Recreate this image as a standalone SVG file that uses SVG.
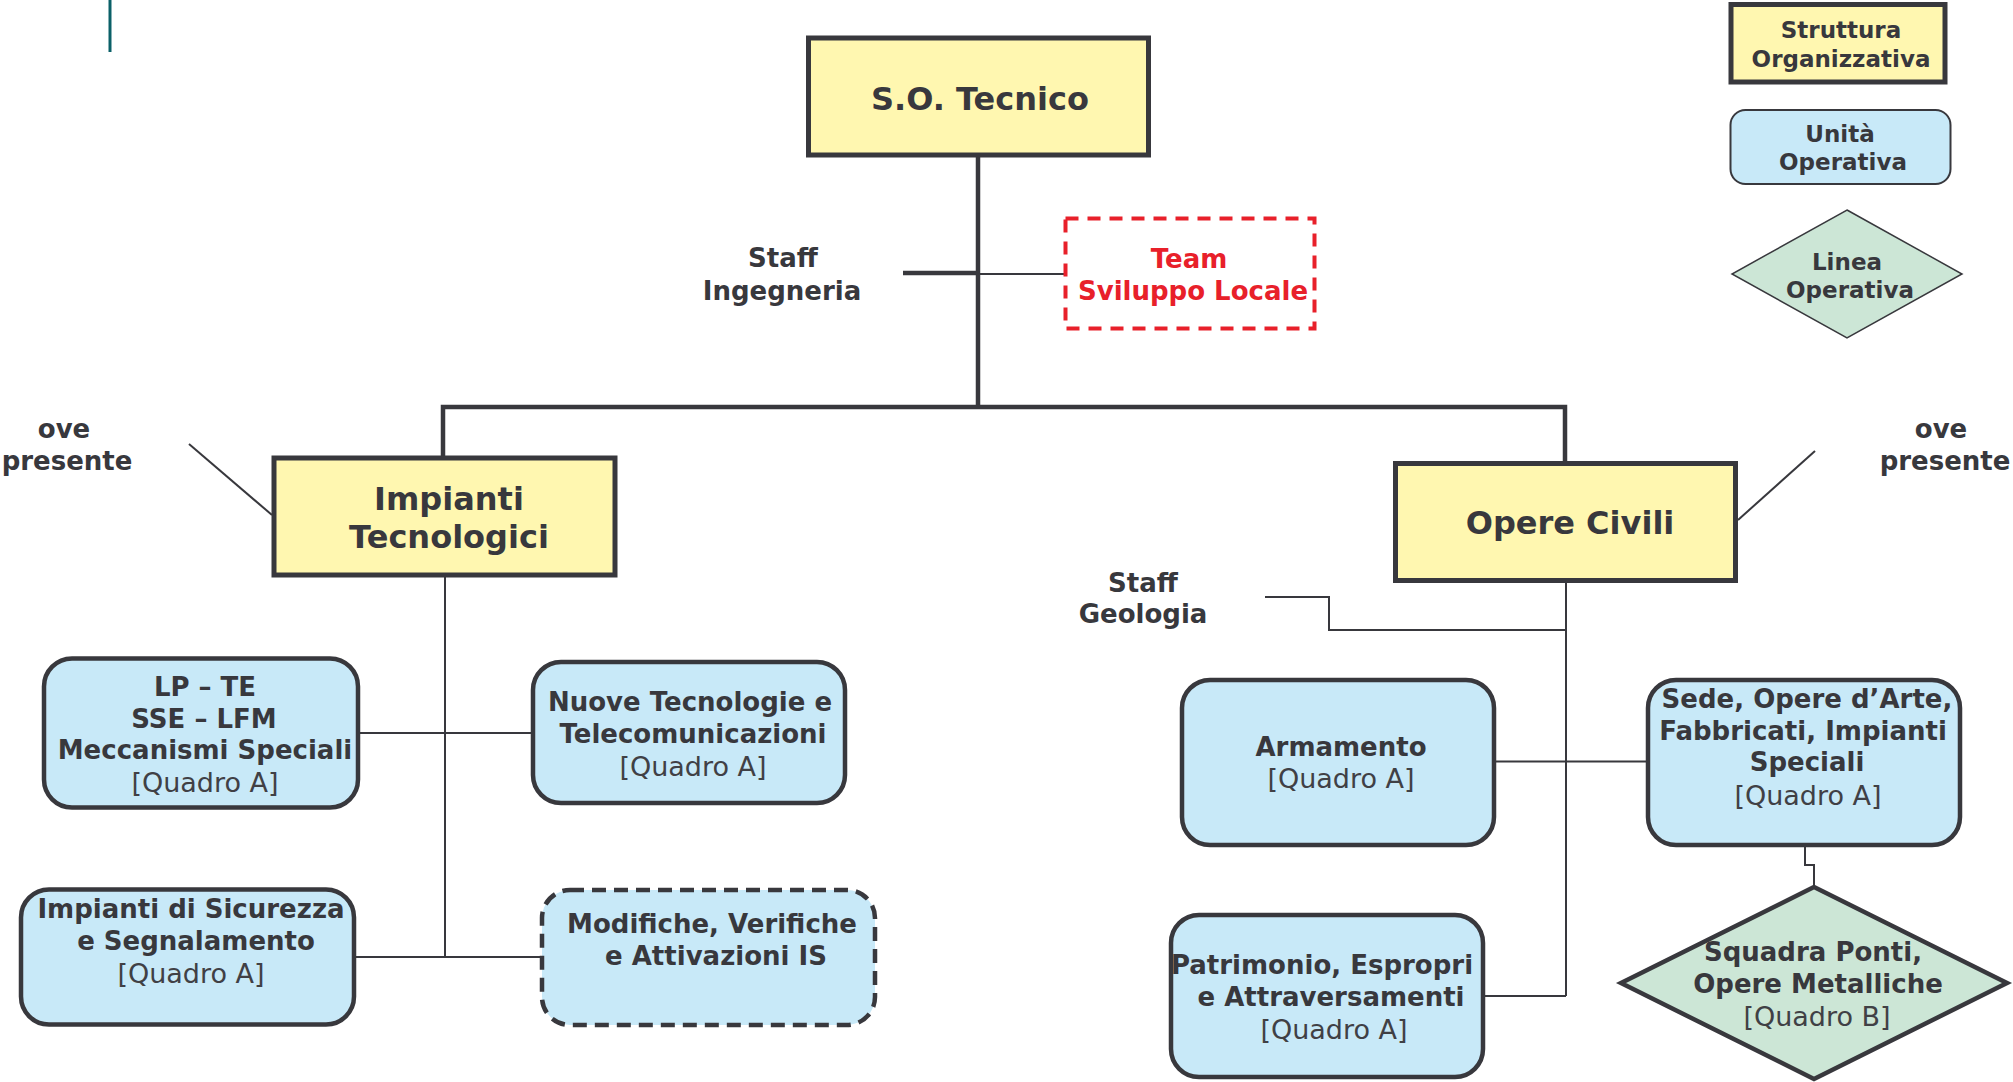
<svg xmlns="http://www.w3.org/2000/svg" width="2013" height="1082" viewBox="0 0 2013 1082">
<style>
text{font-family:"DejaVu Sans","Liberation Sans",sans-serif;fill:#38383d;text-anchor:middle}
.b{font-weight:bold}
.r{font-weight:normal;fill:#404045}
.f31{font-size:32px}
.f26{font-size:26px}
.r.f26{font-size:27px}
.f21{font-size:23px}
.ys{fill:#fff7b0;stroke:#38383d;stroke-width:5}
.bu{fill:#c8e9f8;stroke:#38383d;stroke-width:4.5}
.gr{fill:#cce6d6;stroke:#38383d}
.thick{fill:none;stroke:#38383d;stroke-width:4.5}
.thin{fill:none;stroke:#38383d;stroke-width:2}
.red{fill:#e8202a}
</style>
<rect width="2013" height="1082" fill="#ffffff"/>
<line x1="110" y1="0" x2="110" y2="52" stroke="#0b6068" stroke-width="3"/>

<g id="connectors">
<polyline class="thick" points="978,157 978,407"/>
<polyline class="thick" points="443,457 443,407 1565,407 1565,463"/>
<line class="thick" x1="903" y1="273" x2="978" y2="273" stroke-width="4"/>
<line class="thin" x1="978" y1="274" x2="1064" y2="274"/>
<line class="thin" x1="189" y1="444" x2="272" y2="515"/>
<line class="thin" x1="1738" y1="520" x2="1815" y2="451"/>
<line class="thin" x1="445" y1="577" x2="445" y2="957"/>
<line class="thin" x1="360" y1="733" x2="531" y2="733"/>
<line class="thin" x1="356" y1="957" x2="540" y2="957"/>
<line class="thin" x1="1566" y1="582" x2="1566" y2="996"/>
<polyline class="thin" points="1265,597 1329,597 1329,630 1566,630"/>
<line class="thin" x1="1496" y1="761.5" x2="1646" y2="761.5"/>
<line class="thin" x1="1485" y1="996" x2="1566" y2="996"/>
<polyline class="thin" points="1805,847 1805,865 1814,865 1814,887"/>
</g>

<g id="so-tecnico">
<rect class="ys" x="808.5" y="38" width="340" height="117"/>
<text class="b f31" x="980" y="110">S.O. Tecnico</text>
</g>

<g id="staff-ingegneria">
<text class="b f26" x="783" y="267">Staff</text>
<text class="b f26" x="782" y="300">Ingegneria</text>
</g>

<g id="team-sviluppo">
<rect x="1065.5" y="218.5" width="249" height="110" fill="#ffffff" stroke="#e8202a" stroke-width="4" stroke-dasharray="13,9"/>
<text class="b f26 red" x="1189" y="268">Team</text>
<text class="b f26 red" x="1193" y="300">Sviluppo Locale</text>
</g>

<g id="legend-struttura">
<rect class="ys" x="1731" y="4.5" width="214" height="77.5" stroke-width="4.5"/>
<text class="b f21" x="1841" y="38">Struttura</text>
<text class="b f21" x="1841" y="67">Organizzativa</text>
</g>
<g id="legend-unita">
<rect x="1730.5" y="110" width="220" height="74" rx="15" fill="#c8e9f8" stroke="#38383d" stroke-width="2"/>
<text class="b f21" x="1840" y="142">Unità</text>
<text class="b f21" x="1843" y="170">Operativa</text>
</g>
<g id="legend-linea">
<polygon class="gr" stroke-width="1.5" points="1847,210 1962,274 1847,338 1732,274"/>
<text class="b f21" x="1847" y="270">Linea</text>
<text class="b f21" x="1850" y="298">Operativa</text>
</g>

<g id="ove-presente-left">
<text class="b f26" x="64" y="438">ove</text>
<text class="b f26" x="67" y="470">presente</text>
</g>
<g id="ove-presente-right">
<text class="b f26" x="1941" y="438">ove</text>
<text class="b f26" x="1945" y="470">presente</text>
</g>

<g id="impianti-tecnologici">
<rect class="ys" x="274" y="458" width="341" height="117"/>
<text class="b f31" x="449" y="510">Impianti</text>
<text class="b f31" x="449" y="548">Tecnologici</text>
</g>

<g id="opere-civili">
<rect class="ys" x="1395.5" y="463.5" width="340" height="117"/>
<text class="b f31" x="1570" y="534">Opere Civili</text>
</g>

<g id="staff-geologia">
<text class="b f26" x="1143" y="592">Staff</text>
<text class="b f26" x="1143" y="623">Geologia</text>
</g>

<g id="lp-te">
<rect class="bu" x="44" y="658.5" width="314" height="149" rx="28"/>
<text class="b f26" x="205" y="696">LP – TE</text>
<text class="b f26" x="204" y="728">SSE – LFM</text>
<text class="b f26" x="205" y="759">Meccanismi Speciali</text>
<text class="r f26" x="205" y="792">[Quadro A]</text>
</g>

<g id="nuove-tecnologie">
<rect class="bu" x="533" y="662" width="312" height="141" rx="28"/>
<text class="b f26" x="690" y="711">Nuove Tecnologie e</text>
<text class="b f26" x="693" y="743">Telecomunicazioni</text>
<text class="r f26" x="693" y="776">[Quadro A]</text>
</g>

<g id="impianti-sicurezza">
<rect class="bu" x="21" y="889.5" width="333" height="135" rx="28"/>
<text class="b f26" x="191" y="918">Impianti di Sicurezza</text>
<text class="b f26" x="196" y="950">e Segnalamento</text>
<text class="r f26" x="191" y="983">[Quadro A]</text>
</g>

<g id="modifiche">
<rect x="542" y="890" width="333" height="135" rx="28" fill="#c8e9f8" stroke="#38383d" stroke-width="4.5" stroke-dasharray="14,8"/>
<text class="b f26" x="712" y="933">Modifiche, Verifiche</text>
<text class="b f26" x="716" y="965">e Attivazioni IS</text>
</g>

<g id="armamento">
<rect class="bu" x="1182" y="680" width="312" height="165" rx="28"/>
<text class="b f26" x="1341" y="756">Armamento</text>
<text class="r f26" x="1341" y="788">[Quadro A]</text>
</g>

<g id="sede-opere">
<rect class="bu" x="1648" y="680" width="312" height="165" rx="28"/>
<text class="b f26" x="1807" y="708">Sede, Opere d’Arte,</text>
<text class="b f26" x="1803" y="740">Fabbricati, Impianti</text>
<text class="b f26" x="1807" y="771">Speciali</text>
<text class="r f26" x="1808" y="805">[Quadro A]</text>
</g>

<g id="patrimonio">
<rect class="bu" x="1171" y="915" width="312" height="162" rx="28"/>
<text class="b f26" x="1322" y="974">Patrimonio, Espropri</text>
<text class="b f26" x="1331" y="1006">e Attraversamenti</text>
<text class="r f26" x="1334" y="1039">[Quadro A]</text>
</g>

<g id="squadra-ponti">
<polygon class="gr" stroke-width="4.5" points="1814,887 2007,983 1814,1079 1621,983"/>
<text class="b f26" x="1813" y="961">Squadra Ponti,</text>
<text class="b f26" x="1818" y="993">Opere Metalliche</text>
<text class="r f26" x="1817" y="1026">[Quadro B]</text>
</g>
</svg>
